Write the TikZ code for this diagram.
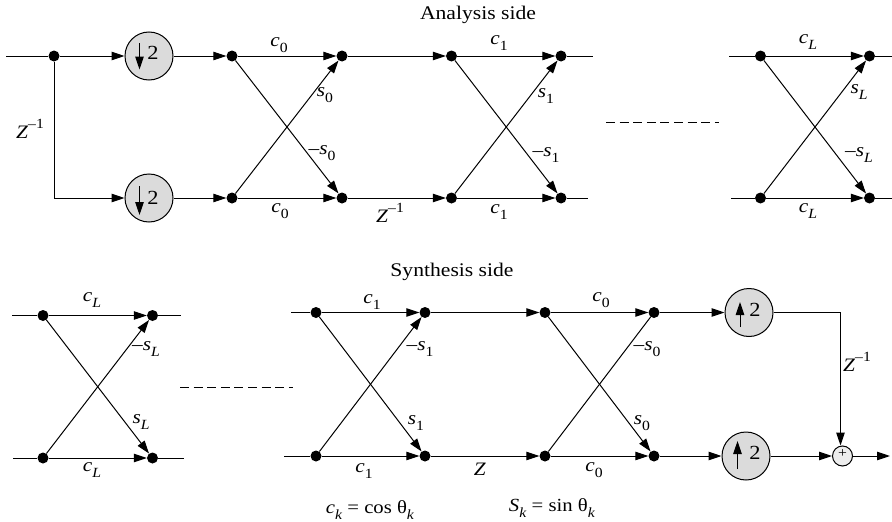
\documentclass[tikz,border=0pt]{standalone}
\usepackage{fontspec}
\setmainfont{Liberation Serif}[FakeStretch=1.12]
\usetikzlibrary{arrows.meta}
\newcommand{\lab}[2]{\textit{#1}\raisebox{-0.3em}{\fontsize{14}{14}\selectfont #2}}
\newcommand{\labit}[2]{\textit{#1}\raisebox{-0.3em}{\fontsize{14}{14}\selectfont\textit{#2}}}
\newcommand{\zinv}{\textit{Z}\raisebox{0.5em}{\fontsize{14}{14}\selectfont –1}}
\tikzset{
  x=1pt,y=-1pt,
  wire/.style={line width=1pt,black},
  flow/.style={wire,-{Triangle[length=13pt,width=8.5pt]}},
  dot/.style={circle,fill=black,draw=none,minimum size=11pt,inner sep=0pt},
  ratebox/.style={circle,draw=black,line width=1pt,fill=black!14,minimum size=48pt,inner sep=0pt},
  sumbox/.style={circle,draw=black,line width=1pt,fill=black!7,minimum size=20pt,inner sep=0pt},
  lbl/.style={inner sep=0pt,font=\fontsize{19}{21}\selectfont},
  eqn/.style={inner sep=0pt,font=\fontsize{18.5}{21}\selectfont},
  numb/.style={inner sep=0pt,font=\fontsize{20}{22}\selectfont},
  ttl/.style={inner sep=0pt,font=\fontsize{19.3}{21}\selectfont},
  dash line/.style={wire,dash pattern=on 9pt off 4.6pt},
}
\begin{document}
\begin{tikzpicture}
\useasboundingbox (0,0) rectangle (892,522);
\node[ttl] (titleA) at (478,15) {Analysis side};
\node[ttl] (titleS) at (452,272) {Synthesis side};

% analysis top row
\coordinate (Ain) at (6,56);
\node[dot] (a0) at (54,56) {};
\coordinate (acorner) at (54,198);
\node[ratebox] (dn1) at (149,56) {};
\node[ratebox] (dn2) at (149,198) {};
\node[dot] (t1) at (232,56) {};
\node[dot] (t2) at (342,56) {};
\node[dot] (t3) at (451.5,56) {};
\node[dot] (t4) at (561,56) {};
\coordinate (t4e) at (593,56);
\node[dot] (u1) at (232,198) {};
\node[dot] (u2) at (342,198) {};
\node[dot] (u3) at (451.5,198) {};
\node[dot] (u4) at (561,198) {};
\coordinate (u4e) at (588,198);
\coordinate (tLs) at (729,56);
\node[dot] (tL1) at (760.5,56) {};
\node[dot] (tL2) at (869.5,56) {};
\coordinate (tLe) at (892,56);
\coordinate (uLs) at (731,198);
\node[dot] (uL1) at (760.5,198) {};
\node[dot] (uL2) at (869.5,198) {};
\coordinate (uLe) at (892,198);

\draw[wire] (Ain) -- (a0);
\draw[flow] (a0) -- (dn1);
\draw[flow] (dn1) -- (t1);
\draw[flow] (t1) -- (t2);
\draw[flow] (t2) -- (t3);
\draw[flow] (t3) -- (t4);
\draw[wire] (t4) -- (t4e);
\draw[wire] (a0) -- (acorner);
\draw[flow] (acorner) -- (dn2);
\draw[flow] (dn2) -- (u1);
\draw[flow] (u1) -- (u2);
\draw[flow] (u2) -- (u3);
\draw[flow] (u3) -- (u4);
\draw[wire] (u4) -- (u4e);
\draw[flow] (t1) -- (u2);
\draw[flow] (u1) -- (t2);
\draw[flow] (t3) -- (u4);
\draw[flow] (u3) -- (t4);
\draw[wire] (tLs) -- (tL1);
\draw[flow] (tL1) -- (tL2);
\draw[wire] (tL2) -- (tLe);
\draw[wire] (uLs) -- (uL1);
\draw[flow] (uL1) -- (uL2);
\draw[wire] (uL2) -- (uLe);
\draw[flow] (tL1) -- (uL2);
\draw[flow] (uL1) -- (tL2);
\coordinate (dA1) at (606,122);
\coordinate (dA2) at (719,122);
\draw[dash line] (dA1) -- (dA2);

% rate boxes contents
\coordinate (dn1a) at (139.5,43);
\coordinate (dn1b) at (139.5,69.5);
\draw[flow] (dn1a) -- (dn1b);
\node[numb] (two1) at (153,53) {2};
\coordinate (dn2a) at (139.5,186);
\coordinate (dn2b) at (139.5,215);
\draw[flow] (dn2a) -- (dn2b);
\node[numb] (two2) at (153,198) {2};

% analysis labels
\node[lbl] (lc0t) at (279,45) {\lab{c}{0}};
\node[lbl] (lc0b) at (280,211) {\lab{c}{0}};
\node[lbl] (ls0) at (325,95) {\lab{s}{0}};
\node[lbl] (lms0) at (322,153) {–\lab{s}{0}};
\node[lbl] (lz1) at (30,129) {\zinv};
\node[lbl] (lz2) at (390,213) {\zinv};
\node[lbl] (lc1t) at (499,43) {\lab{c}{1}};
\node[lbl] (lc1b) at (499,212) {\lab{c}{1}};
\node[lbl] (ls1) at (546,96) {\lab{s}{1}};
\node[lbl] (lms1) at (546,155) {–\lab{s}{1}};
\node[lbl] (lcLt) at (808,42) {\labit{c}{L}};
\node[lbl] (lcLb) at (808,211) {\labit{c}{L}};
\node[lbl] (lsL) at (859,92) {\labit{s}{L}};
\node[lbl] (lmsL) at (859,155) {–\labit{s}{L}};

% synthesis left block
\coordinate (pLs) at (12,315.5);
\node[dot] (pL1) at (43,315.5) {};
\node[dot] (pL2) at (152.5,315.5) {};
\coordinate (pLe) at (181,315.5);
\coordinate (qLs) at (13,458);
\node[dot] (qL1) at (43,458) {};
\node[dot] (qL2) at (152.5,458) {};
\coordinate (qLe) at (184,458);
\draw[wire] (pLs) -- (pL1);
\draw[flow] (pL1) -- (pL2);
\draw[wire] (pL2) -- (pLe);
\draw[wire] (qLs) -- (qL1);
\draw[flow] (qL1) -- (qL2);
\draw[wire] (qL2) -- (qLe);
\draw[flow] (pL1) -- (qL2);
\draw[flow] (qL1) -- (pL2);
\coordinate (dS1) at (180,387);
\coordinate (dS2) at (293,387);
\draw[dash line] (dS1) -- (dS2);

% synthesis main
\coordinate (p1s) at (291,312.5);
\node[dot] (p1) at (316,312.5) {};
\node[dot] (p2) at (425,312.5) {};
\node[dot] (p3) at (545,312.5) {};
\node[dot] (p4) at (654,312.5) {};
\node[ratebox] (up1) at (749,312.5) {};
\coordinate (pcorner) at (840.5,312.5);
\coordinate (q1s) at (284,456);
\node[dot] (q1) at (316,456) {};
\node[dot] (q2) at (425,456) {};
\node[dot] (q3) at (545,456) {};
\node[dot] (q4) at (654,456) {};
\node[ratebox] (up2) at (746,456) {};
\node[sumbox] (sum) at (842.5,456) {};
\node[inner sep=0pt,font=\fontsize{14}{14}\selectfont] (plus) at (842.5,454) {+};
\coordinate (out) at (890,456);
\draw[wire] (p1s) -- (p1);
\draw[flow] (p1) -- (p2);
\draw[flow] (p2) -- (p3);
\draw[flow] (p3) -- (p4);
\draw[flow] (p4) -- (up1);
\draw[wire] (up1) -- (pcorner);
\draw[flow] (pcorner) -- (pcorner |- sum.north);
\draw[wire] (q1s) -- (q1);
\draw[flow] (q1) -- (q2);
\draw[flow] (q2) -- (q3);
\draw[flow] (q3) -- (q4);
\draw[flow] (q4) -- (up2);
\draw[flow] (up2) -- (sum);
\draw[flow] (sum) -- (out);
\draw[flow] (p1) -- (q2);
\draw[flow] (q1) -- (p2);
\draw[flow] (p3) -- (q4);
\draw[wire] (q3) -- (p4);

\coordinate (up1a) at (740,327);
\coordinate (up1b) at (740,302);
\draw[flow] (up1a) -- (up1b);
\node[numb] (two3) at (755,310) {2};
\coordinate (up2a) at (737.5,469);
\coordinate (up2b) at (737.5,441);
\draw[flow] (up2a) -- (up2b);
\node[numb] (two4) at (755,453) {2};

% synthesis labels
\node[lbl] (lcLt2) at (92,300) {\labit{c}{L}};
\node[lbl] (lcLb2) at (92,470) {\labit{c}{L}};
\node[lbl] (lmsL2) at (146,349) {–\labit{s}{L}};
\node[lbl] (lsL2) at (141,422) {\labit{s}{L}};
\node[lbl] (lc1t2) at (372,302) {\lab{c}{1}};
\node[lbl] (lc1b2) at (364,471) {\lab{c}{1}};
\node[lbl] (lms12) at (420,349) {–\lab{s}{1}};
\node[lbl] (ls12) at (416,423) {\lab{s}{1}};
\node[lbl] (lc0t2) at (601,300) {\lab{c}{0}};
\node[lbl] (lc0b2) at (594,470) {\lab{c}{0}};
\node[lbl] (lms02) at (647,349) {–\lab{s}{0}};
\node[lbl] (ls02) at (642,423) {\lab{s}{0}};
\node[lbl] (lZ) at (480,469) {\textit{Z}};
\node[lbl] (lz3) at (857,362) {\zinv};
\node[eqn] (eq1) at (370,510) {\labit{c}{k} = cos θ\raisebox{-0.3em}{\fontsize{14}{14}\selectfont\textit{k}}};
\node[eqn] (eq2) at (552,508) {\labit{S}{k} = sin θ\raisebox{-0.3em}{\fontsize{14}{14}\selectfont\textit{k}}};
\end{tikzpicture}
\end{document}
